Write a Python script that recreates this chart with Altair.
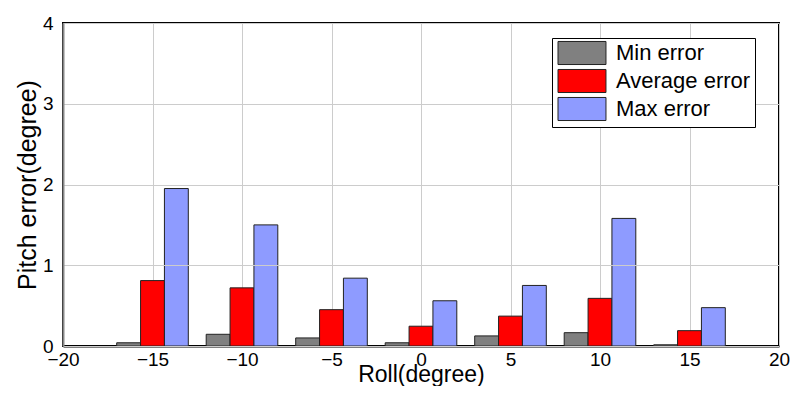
import altair as alt
import pandas as pd

# ---- data ----
roll = [-15, -10, -5, 0, 5, 10, 15]
series = ["Min error", "Average error", "Max error"]
min_err = [0.04, 0.145, 0.10, 0.04, 0.125, 0.165, 0.015]
avg_err = [0.81, 0.72, 0.45, 0.245, 0.37, 0.59, 0.19]
max_err = [1.95, 1.50, 0.84, 0.56, 0.75, 1.58, 0.475]
colors = ["#808080", "#ff0000", "#8e9bff"]
x_ticks = [-20, -15, -10, -5, 0, 5, 10, 15, 20]
y_ticks = [0, 1, 2, 3, 4]

rows = []
for k, (name, vals) in enumerate(zip(series, [min_err, avg_err, max_err])):
    for r, v in zip(roll, vals):
        rows.append({"roll": r, "series": name, "k": k, "value": v})
df = pd.DataFrame(rows)

BAR_W = 4 / 3
FONT = "Liberation Sans"

chart = (
    alt.Chart(df)
    .transform_calculate(
        xa=f"datum.roll + (datum.k - 1) * {BAR_W} - {BAR_W / 2}",
        xb=f"datum.roll + (datum.k - 1) * {BAR_W} + {BAR_W / 2}",
    )
    .mark_bar(stroke="#222222", strokeWidth=1, opacity=1)
    .encode(
        x=alt.X(
            "xa:Q",
            scale=alt.Scale(domain=[-20, 20], nice=False, zero=False),
            axis=alt.Axis(
                values=x_ticks,
                title="Roll(degree)",
                ticks=False,
                labelPadding=4,
                labelFontSize=19,
                titleFontSize=23,
                titleFontWeight="normal",
                titleY=35,
                titleBaseline="alphabetic",
                domainColor="black",
                domainWidth=2,
                gridColor="#cccccc",
                labelFlush=False,
            ),
        ),
        x2="xb:Q",
        y=alt.Y(
            "value:Q",
            scale=alt.Scale(domain=[0, 4], nice=False),
            axis=alt.Axis(
                values=y_ticks,
                title="Pitch error(degree)",
                ticks=False,
                labelPadding=10,
                labelFontSize=19,
                titleFontSize=25,
                titleFontWeight="normal",
                titleAngle=270,
                titleX=-36,
                titleY=161.5,
                titleAlign="center",
                titleBaseline="middle",
                domainColor="#888888",
                domainWidth=2,
                gridColor="#cccccc",
                zindex=1,
                grid=True,
            ),
        ),
        y2=alt.datum(0),
        color=alt.Color(
            "series:N",
            scale=alt.Scale(domain=series, range=colors),
            legend=alt.Legend(
                title=None,
                orient="none",
                legendX=489,
                legendY=15,
                symbolType="M-1,-1.28H4.33V1.28H-1Z",
                symbolSize=324,
                symbolStrokeColor="#222222",
                symbolStrokeWidth=1,
                symbolOpacity=1,
                labelFontSize=22,
                labelOffset=38,
                labelLimit=400,
                rowPadding=0,
                padding=4,
                strokeColor="black",
                fillColor="white",
                zindex=3,
            ),
        ),
    )
    .properties(
        width=716,
        height=323,
        autosize=alt.AutoSizeParams(type="none"),
        padding={"left": 55, "top": 15, "right": 11, "bottom": 40},
        background="white",
    )
    .configure_view(stroke="black", strokeWidth=2)
    .configure_axis(labelFont=FONT, titleFont=FONT, labelColor="black", titleColor="black", gridWidth=1)
    .configure_legend(labelFont=FONT, labelColor="black")
)

chart.save("out.html", embed_options={"renderer": "svg", "actions": False})
